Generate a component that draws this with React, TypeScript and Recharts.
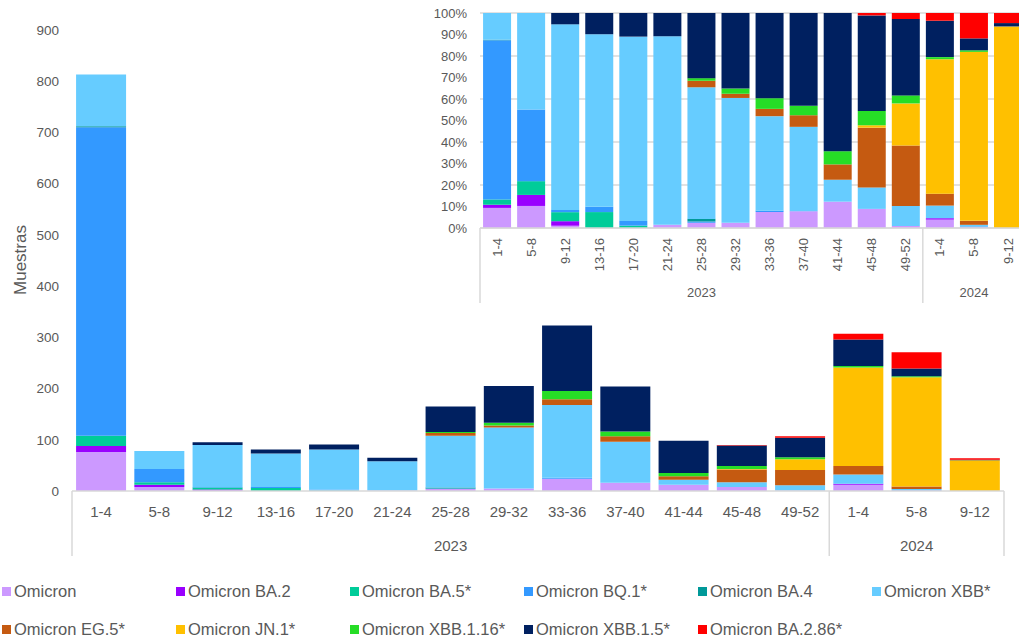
import { BarChart, Bar, XAxis, YAxis, CartesianGrid } from "recharts";

// periodos de 4 semanas y año de cada uno
const periods = ["1-4", "5-8", "9-12", "13-16", "17-20", "21-24", "25-28", "29-32", "33-36", "37-40", "41-44", "45-48", "49-52", "1-4", "5-8", "9-12"];
const years = ["2023", "2023", "2023", "2023", "2023", "2023", "2023", "2023", "2023", "2023", "2023", "2023", "2023", "2024", "2024", "2024"];

// muestras por variante (orden de apilado, de abajo hacia arriba)
const omicron = [76, 8, 1, 0, 0, 1, 4, 5, 24, 16, 12, 8, 1, 12, 1, 0];
const ba2 = [12, 4, 2, 0, 0, 0, 0, 0, 0, 0, 0, 0, 0, 2, 0, 0];
const ba5 = [20, 5, 4, 6, 1, 0, 0, 0, 0, 0, 0, 0, 0, 0, 0, 0];
const bq1 = [602, 26, 1, 2, 2, 0, 1, 0, 2, 0, 0, 0, 0, 0, 1, 0];
const ba4 = [2, 0, 0, 0, 0, 0, 2, 0, 0, 0, 0, 0, 0, 0, 0, 0];
const xbb = [101, 35, 82, 65, 78, 57, 101, 119, 142, 80, 10, 9, 10, 18, 2, 0];
const eg5 = [0, 0, 0, 0, 0, 0, 5, 4, 11, 11, 7, 25, 30, 17, 5, 0];
const jn1 = [0, 0, 0, 0, 0, 0, 0, 0, 0, 0, 0, 1, 21, 192, 213, 60];
const xbb116 = [0, 0, 0, 0, 0, 0, 2, 5, 16, 9, 6, 6, 4, 3, 2, 0];
const xbb15 = [0, 0, 5, 8, 10, 7, 50, 72, 128, 88, 63, 40, 38, 52, 15, 1];
const ba286 = [0, 0, 0, 0, 0, 0, 0, 0, 0, 0, 0, 1, 3, 11, 32, 3];

const series = [
  { key: "Omicron", values: omicron, color: "#CC99FF" },
  { key: "Omicron BA.2", values: ba2, color: "#9900FF" },
  { key: "Omicron BA.5*", values: ba5, color: "#00CC99" },
  { key: "Omicron BQ.1*", values: bq1, color: "#3399FF" },
  { key: "Omicron BA.4", values: ba4, color: "#009999" },
  { key: "Omicron XBB*", values: xbb, color: "#66CCFF" },
  { key: "Omicron EG.5*", values: eg5, color: "#C55A11" },
  { key: "Omicron JN.1*", values: jn1, color: "#FFC000" },
  { key: "Omicron XBB.1.16*", values: xbb116, color: "#26DD26" },
  { key: "Omicron XBB.1.5*", values: xbb15, color: "#002060" },
  { key: "Omicron BA.2.86*", values: ba286, color: "#FF0000" },
];

const mainTicks = [0, 100, 200, 300, 400, 500, 600, 700, 800, 900];
const pctTicks = [0, 0.1, 0.2, 0.3, 0.4, 0.5, 0.6, 0.7, 0.8, 0.9, 1];

const rows = periods.map((p, i) => {
  const r: Record<string, string | number> = { period: p, year: years[i] };
  series.forEach((s) => (r[s.key] = s.values[i]));
  return r;
});

const FONT = "'Liberation Sans', Arial, sans-serif";
const GRAY = "#595959";
const LINE = "#d9d9d9";

// layout
const MAIN_W = 1019;
const MAIN_M = { top: 30, right: 15, left: 0, bottom: 0 };
const MAIN_YW = 72;
const MAIN_BAND = (MAIN_W - MAIN_M.left - MAIN_M.right - MAIN_YW) / periods.length;

const INS_W = 640;
const INS_M = { top: 13, right: 15, left: 0, bottom: 0 };
const INS_YW = 80;
const INS_BAND = (INS_W - INS_M.left - INS_M.right - INS_YW) / periods.length;

function groupInfo(i: number) {
  const start = i === 0 || years[i] !== years[i - 1];
  const last = i === years.length - 1;
  let end = i;
  while (end + 1 < years.length && years[end + 1] === years[i]) end++;
  return { start, last, end };
}

function makeTick(opts: { band: number; rotate: boolean; fs: number; yearFs: number; labelDy: number; yearDy: number; lineLen: number }) {
  return (props: any) => {
    const { x, y, payload } = props;
    const i: number = payload?.index ?? props.index;
    const half = opts.band / 2;
    const g = groupInfo(i);
    return (
      <g>
        {opts.rotate ? (
          <text
            x={x}
            y={y + opts.labelDy}
            transform={`rotate(-90 ${x} ${y + opts.labelDy})`}
            textAnchor="end"
            dy="0.35em"
            fontSize={opts.fs}
            fontFamily={FONT}
            fill={GRAY}
          >
            {periods[i]}
          </text>
        ) : (
          <text x={x} y={y + opts.labelDy} textAnchor="middle" fontSize={opts.fs} fontFamily={FONT} fill={GRAY}>
            {periods[i]}
          </text>
        )}
        {g.start && (
          <>
            <line x1={x - half} x2={x - half} y1={y} y2={y + opts.lineLen} stroke={LINE} strokeWidth={1.5} />
            <text
              x={x + ((g.end - i) / 2) * opts.band}
              y={y + opts.yearDy}
              textAnchor="middle"
              fontSize={opts.yearFs}
              fontFamily={FONT}
              fill={GRAY}
            >
              {years[i]}
            </text>
          </>
        )}
        {g.last && <line x1={x + half} x2={x + half} y1={y} y2={y + opts.lineLen} stroke={LINE} strokeWidth={1.5} />}
      </g>
    );
  };
}

const MainTick = makeTick({ band: MAIN_BAND, rotate: false, fs: 15, yearFs: 15, labelDy: 26, yearDy: 60, lineLen: 65 });
const InsetTick = makeTick({ band: INS_BAND, rotate: true, fs: 13, yearFs: 13, labelDy: 10, yearDy: 69, lineLen: 75 });

export default function App() {
  return (
    <div
      style={{
        position: "fixed",
        left: 0,
        top: 0,
        width: 1019,
        height: 638,
        overflow: "hidden",
        background: "#fff",
        fontFamily: FONT,
      }}
    >
      <div style={{ position: "absolute", left: 0, top: 0 }}>
        <BarChart width={MAIN_W} height={561} data={rows} margin={MAIN_M} barCategoryGap="7%">
          <XAxis
            dataKey="period"
            interval={0}
            tickSize={0}
            tickMargin={0}
            height={70}
            axisLine={{ stroke: LINE, strokeWidth: 1.5 }}
            tickLine={false}
            tick={MainTick}
          />
          <YAxis
            width={MAIN_YW}
            domain={[0, 900]}
            ticks={mainTicks}
            axisLine={false}
            tickLine={false}
            tickSize={0}
            tickMargin={13}
            tick={{ fontSize: 13.5, fill: GRAY, fontFamily: FONT }}
          />
          {series.map((s) => (
            <Bar key={s.key} dataKey={s.key} stackId="a" fill={s.color} isAnimationActive={false} />
          ))}
        </BarChart>
      </div>

      <svg style={{ position: "absolute", left: 0, top: 0 }} width={40} height={500}>
        <text
          x={20}
          y={260}
          transform="rotate(-90 20 260)"
          textAnchor="middle"
          dy="0.35em"
          fontSize={17}
          fontFamily={FONT}
          fill={GRAY}
        >
          Muestras
        </text>
      </svg>

      <div style={{ position: "absolute", left: 400, top: 0 }}>
        <BarChart width={INS_W} height={310} data={rows} margin={INS_M} barCategoryGap="9%" stackOffset="expand">
          <CartesianGrid vertical={false} stroke={LINE} strokeWidth={1.3} />
          <XAxis
            dataKey="period"
            interval={0}
            tickSize={0}
            tickMargin={0}
            height={82}
            axisLine={{ stroke: LINE, strokeWidth: 1.5 }}
            tickLine={false}
            tick={InsetTick}
          />
          <YAxis
            width={INS_YW}
            domain={[0, 1]}
            ticks={pctTicks}
            axisLine={false}
            tickLine={false}
            tickSize={0}
            tickMargin={13}
            tickFormatter={(v: number) => `${Math.round(v * 100)}%`}
            tick={{ fontSize: 13, fill: GRAY, fontFamily: FONT }}
          />
          {series.map((s) => (
            <Bar key={s.key} dataKey={s.key} stackId="p" fill={s.color} isAnimationActive={false} />
          ))}
        </BarChart>
      </div>

      {series.map((s, i) => {
        const col = i % 6;
        const row = Math.floor(i / 6);
        return (
          <div
            key={s.key}
            style={{
              position: "absolute",
              left: 2 + col * 174,
              top: 591 + row * 38 - 10,
              height: 20,
              display: "flex",
              alignItems: "center",
              whiteSpace: "nowrap",
              fontSize: 16.5,
              color: GRAY,
            }}
          >
            <span style={{ display: "inline-block", width: 9, height: 9, background: s.color, marginRight: 3 }} />
            {s.key}
          </div>
        );
      })}
    </div>
  );
}
